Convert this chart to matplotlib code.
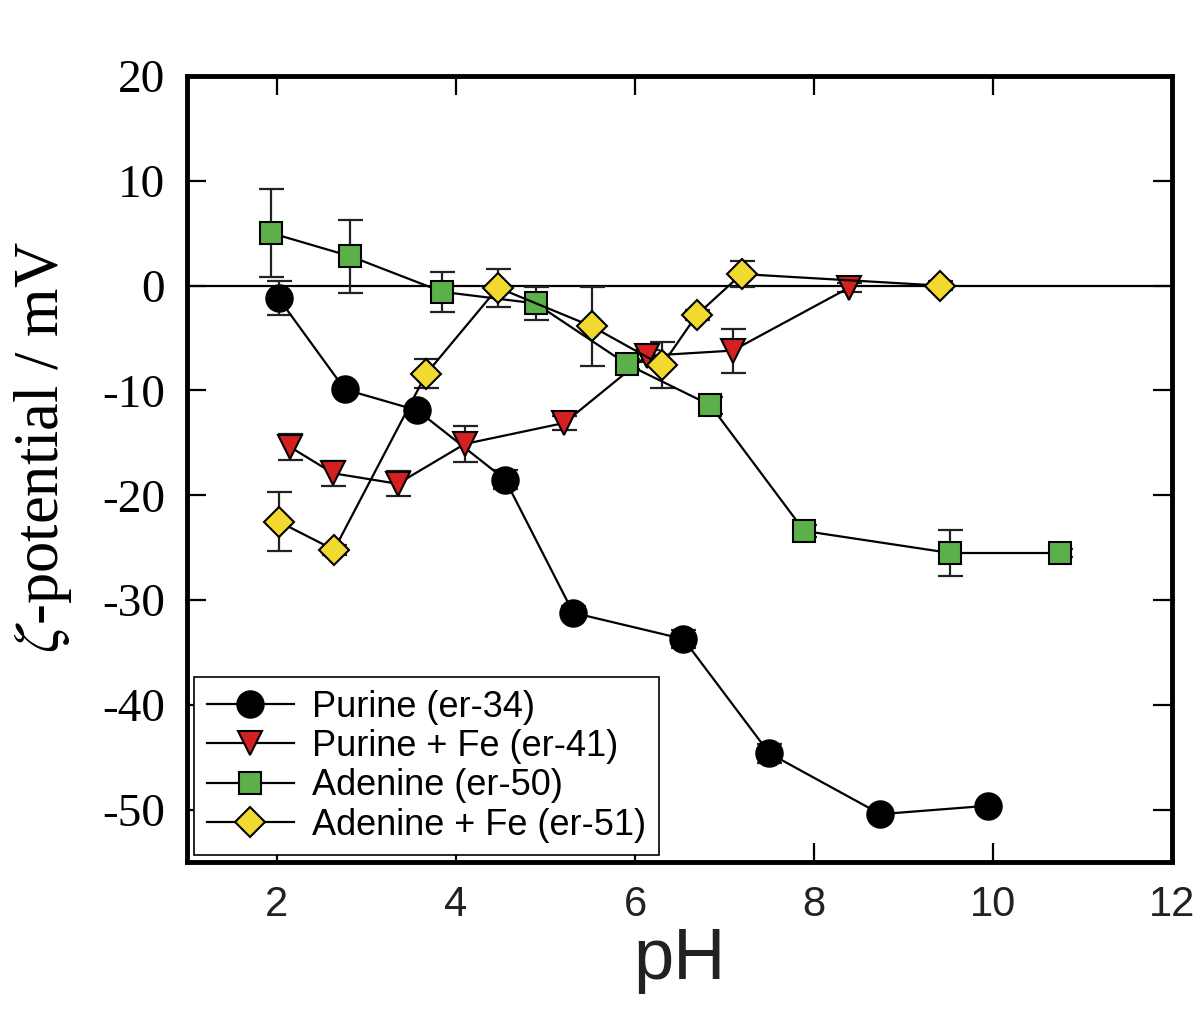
import matplotlib
matplotlib.use("Agg")
import matplotlib.pyplot as plt

plt.rcParams['mathtext.fontset'] = 'stix'
plt.rcParams['axes.unicode_minus'] = False

# Purine (er-34)
pur_x = [2.02, 2.76, 3.57, 4.55, 5.31, 6.54, 7.50, 8.74, 9.94]
pur_y = [-1.2, -9.9, -11.9, -18.5, -31.2, -33.7, -44.6, -50.4, -49.6]
pur_e = [1.6, 0.5, 0.6, 0.9, 0.6, 0.9, 0.9, 0.6, 0.5]

# Purine + Fe (er-41)
pfe_x = [2.15, 2.63, 3.35, 4.10, 5.21, 6.13, 7.09, 8.39]
pfe_y = [-15.4, -17.9, -18.9, -15.1, -13.1, -6.7, -6.2, -0.2]
pfe_e = [1.2, 1.2, 1.2, 1.7, 0.7, 0.6, 2.1, 0.4]

# Adenine (er-50)
ade_x = [1.94, 2.82, 3.85, 4.89, 5.91, 6.84, 7.89, 9.52, 10.74]
ade_y = [5.0, 2.8, -0.6, -1.7, -7.5, -11.4, -23.4, -25.5, -25.5]
ade_e = [4.2, 3.5, 1.9, 1.6, 0.5, 0.8, 0.6, 2.2, 0.4]

# Adenine + Fe (er-51)
afe_x = [2.02, 2.64, 3.67, 4.47, 5.52, 6.30, 6.69, 7.19, 9.40]
afe_y = [-22.5, -25.2, -8.4, -0.2, -3.9, -7.6, -2.8, 1.1, 0.0]
afe_e = [2.8, 0.5, 1.4, 1.8, 3.8, 2.2, 0.5, 1.2, 0.4]

labels = ["Purine (er-34)", "Purine + Fe (er-41)", "Adenine (er-50)", "Adenine + Fe (er-51)"]
xticks = [2, 4, 6, 8, 10, 12]
yticks = [-50, -40, -30, -20, -10, 0, 10, 20]

fig = plt.figure(figsize=(12, 10.11), dpi=100)
ax = fig.add_axes([0.156, 0.147, 0.821, 0.778])

ax.axhline(0, color='black', lw=1.6, zorder=1)

series = [
    (pur_x, pur_y, pur_e, 'o', 'black', 19),
    (pfe_x, pfe_y, pfe_e, 'v', '#d42020', 17),
    (ade_x, ade_y, ade_e, 's', '#5cb04a', 16),
    (afe_x, afe_y, afe_e, 'D', '#f2d930', 15),
]
handles = []
for (x, y, e, m, c, ms), lab in zip(series, labels):
    ax.errorbar(x, y, yerr=e, fmt='none', ecolor='#222222', elinewidth=1.6,
                capsize=9, capthick=1.6, zorder=2)
    h, = ax.plot(x, y, color='black', lw=1.6, marker=m, ms=ms, mfc=c,
                 mec='black', mew=1.5, label=lab, zorder=3)
    handles.append(h)

ax.set_xlim(1, 12)
ax.set_ylim(-55, 20)
ax.set_xticks(xticks)
ax.set_yticks(yticks)
ax.tick_params(direction='in', length=14, width=1.6, top=True, right=True)
ax.tick_params(axis='x', pad=16)
ax.tick_params(axis='y', pad=16)
for lab in ax.get_xticklabels():
    lab.set_fontfamily('Liberation Sans')
    lab.set_fontsize(30)
    lab.set_color('#222222')
for lab in ax.get_yticklabels():
    lab.set_fontfamily('Liberation Serif')
    lab.set_fontsize(34)
for s in ax.spines.values():
    s.set_linewidth(3.5)

ax.set_xlabel('pH', fontfamily='Liberation Sans', fontsize=52, labelpad=2, color='#222222')
ax.set_ylabel(r'$\zeta$-potential / mV', fontfamily='Liberation Serif', fontsize=45)
ax.yaxis.set_label_coords(-0.115, 0.528)

leg = ax.legend(handles=handles, loc='lower left', prop={'family': 'Liberation Sans', 'size': 26},
                frameon=True, fancybox=False, edgecolor='black', framealpha=1,
                borderaxespad=0.2, handlelength=2.4, handletextpad=0.5,
                labelspacing=0.12, borderpad=0.35)
leg.get_frame().set_linewidth(1.2)

fig.savefig('out.png', dpi=100)
